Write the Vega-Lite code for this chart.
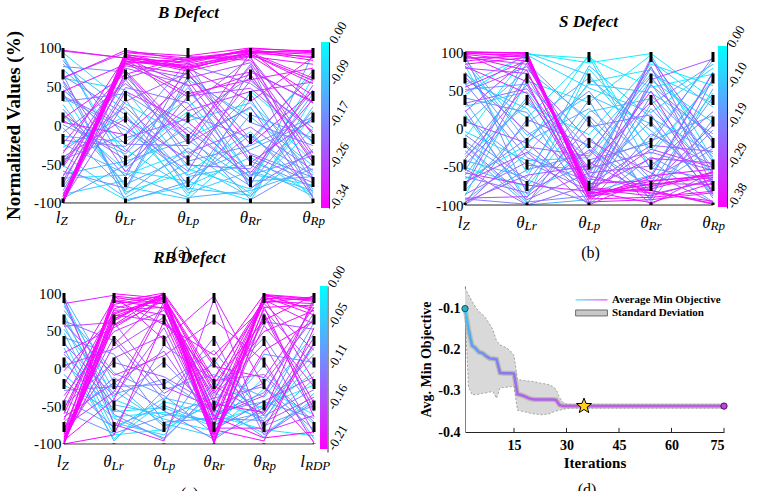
{
  "$schema": "https://vega.github.io/schema/vega-lite/v6.json",
  "background": "white",
  "padding": {"left": 4, "top": 3, "right": 4, "bottom": 4},
  "columns": 2,
  "bounds": "flush",
  "align": "each",
  "spacing": {"row": 78, "column": 136},
  "resolve": {"scale": {"color": "independent"}},
  "config": {
    "view": {"stroke": null},
    "font": "Liberation Serif",
    "axis": {"labelFont": "Liberation Serif", "titleFont": "Liberation Serif", "labelColor": "#000000", "titleColor": "#000000"},
    "title": {"font": "Liberation Serif", "color": "#000000"},
    "text": {"font": "Liberation Serif", "color": "#000000"}
  },
  "datasets": {
    "ax": [
      {"k": "a", "i": 0}, {"k": "b", "i": 1}, {"k": "c", "i": 2},
      {"k": "d", "i": 3}, {"k": "e", "i": 4}, {"k": "f", "i": 5}
    ],
    "la": [
      {"i": 0, "b": "l", "s": "Z"}, {"i": 1, "b": "θ", "s": "Lr"}, {"i": 2, "b": "θ", "s": "Lp"},
      {"i": 3, "b": "θ", "s": "Rr"}, {"i": 4, "b": "θ", "s": "Rp"}
    ],
    "lc": [
      {"i": 0, "b": "l", "s": "Z"}, {"i": 1, "b": "θ", "s": "Lr"}, {"i": 2, "b": "θ", "s": "Lp"},
      {"i": 3, "b": "θ", "s": "Rr"}, {"i": 4, "b": "θ", "s": "Rp"}, {"i": 5, "b": "l", "s": "RDP"}
    ],
    "pa": [
      {"o":-0.01,"a":88,"b":-42,"c":18,"d":-76,"e":62},
      {"o":-0.02,"a":-28,"b":12,"c":-91,"d":44,"e":-22},
      {"o":-0.02,"a":42,"b":-86,"c":-60,"d":-8,"e":-96},
      {"o":-0.03,"a":-68,"b":-64,"c":-33,"d":-88,"e":14},
      {"o":-0.03,"a":12,"b":-58,"c":-72,"d":-97,"e":36},
      {"o":-0.04,"a":94,"b":28,"c":-16,"d":22,"e":-61},
      {"o":-0.04,"a":-52,"b":-96,"c":-78,"d":-41,"e":-89},
      {"o":-0.05,"a":61,"b":46,"c":-56,"d":-82,"e":-4},
      {"o":-0.05,"a":-14,"b":-21,"c":34,"d":-63,"e":-77},
      {"o":-0.06,"a":27,"b":-79,"c":-95,"d":-22,"e":71},
      {"o":-0.06,"a":-89,"b":-71,"c":6,"d":29,"e":-47},
      {"o":-0.07,"a":72,"b":4,"c":-87,"d":-59,"e":-84},
      {"o":-0.07,"a":-38,"b":-93,"c":-48,"d":-92,"e":24},
      {"o":-0.08,"a":51,"b":-31,"c":-81,"d":-90,"e":-31},
      {"o":-0.08,"a":-3,"b":-84,"c":59,"d":11,"e":-52},
      {"o":-0.09,"a":79,"b":19,"c":-66,"d":-51,"e":-91},
      {"o":-0.09,"a":-63,"b":-46,"c":-19,"d":-72,"e":-66},
      {"o":-0.10,"a":36,"b":-6,"c":-64,"d":-31,"e":6},
      {"o":-0.10,"a":-24,"b":-62,"c":-93,"d":-84,"e":-56},
      {"o":-0.11,"a":16,"b":-76,"c":-39,"d":41,"e":-71},
      {"o":-0.11,"a":91,"b":-54,"c":-2,"d":-68,"e":41},
      {"o":-0.12,"a":-79,"b":34,"c":-84,"d":14,"e":-16},
      {"o":-0.12,"a":56,"b":-89,"c":-29,"d":-78,"e":93},
      {"o":-0.13,"a":1,"b":-37,"c":49,"d":-64,"e":-39},
      {"o":-0.13,"a":66,"b":-98,"c":-73,"d":-12,"e":-82},
      {"o":-0.14,"a":-44,"b":-11,"c":83,"d":-46,"e":-79},
      {"o":-0.14,"a":76,"b":69,"c":-46,"d":-26,"e":11},
      {"o":-0.15,"a":-94,"b":-51,"c":14,"d":-16,"e":-64},
      {"o":-0.15,"a":31,"b":41,"c":-11,"d":-96,"e":-49},
      {"o":-0.16,"a":-59,"b":-81,"c":64,"d":4,"e":-26},
      {"o":-0.16,"a":64,"b":14,"c":-76,"d":34,"e":-87},
      {"o":-0.17,"a":-19,"b":-27,"c":44,"d":-36,"e":-67},
      {"o":-0.17,"a":46,"b":-24,"c":-26,"d":79,"e":-94},
      {"o":-0.18,"a":-84,"b":49,"c":29,"d":-74,"e":19},
      {"o":-0.18,"a":21,"b":-66,"c":79,"d":54,"e":-3},
      {"o":-0.19,"a":-33,"b":24,"c":-51,"d":-56,"e":46},
      {"o":-0.19,"a":84,"b":-16,"c":9,"d":62,"e":-44},
      {"o":-0.20,"a":-71,"b":59,"c":-36,"d":-2,"e":-58},
      {"o":-0.20,"a":7,"b":-44,"c":24,"d":87,"e":-12},
      {"o":-0.21,"a":-49,"b":74,"c":53,"d":-81,"e":-33},
      {"o":-0.21,"a":38,"b":-2,"c":-59,"d":71,"e":29},
      {"o":-0.22,"a":-97,"b":31,"c":68,"d":-38,"e":-74},
      {"o":-0.22,"a":-9,"b":54,"c":-7,"d":-66,"e":52},
      {"o":-0.23,"a":58,"b":-60,"c":38,"d":48,"e":-21},
      {"o":-0.23,"a":-54,"b":64,"c":-23,"d":24,"e":-93},
      {"o":-0.24,"a":-76,"b":77,"c":61,"d":81,"e":-36},
      {"o":-0.24,"a":13,"b":-34,"c":72,"d":-18,"e":66},
      {"o":-0.25,"a":62,"b":94,"c":19,"d":44,"e":56},
      {"o":-0.25,"a":-41,"b":9,"c":-44,"d":58,"e":-8},
      {"o":-0.26,"a":-51,"b":61,"c":86,"d":89,"e":-69},
      {"o":-0.26,"a":-88,"b":44,"c":4,"d":-61,"e":34},
      {"o":-0.27,"a":96,"b":87,"c":51,"d":69,"e":31},
      {"o":-0.27,"a":-23,"b":71,"c":-14,"d":76,"e":-41},
      {"o":-0.28,"a":-100,"b":69,"c":-21,"d":94,"e":61},
      {"o":-0.28,"a":4,"b":-12,"c":58,"d":-48,"e":9},
      {"o":-0.29,"a":-36,"b":89,"c":74,"d":31,"e":88},
      {"o":-0.29,"a":-66,"b":81,"c":37,"d":66,"e":-48},
      {"o":-0.30,"a":9,"b":66,"c":89,"d":84,"e":-11},
      {"o":-0.30,"a":-91,"b":84,"c":41,"d":59,"e":74},
      {"o":-0.31,"a":44,"b":79,"c":66,"d":-24,"e":44},
      {"o":-0.31,"a":61,"b":97,"c":84,"d":92,"e":54},
      {"o":-0.32,"a":-95,"b":94,"c":87,"d":96,"e":94},
      {"o":-0.32,"a":-92,"b":92,"c":75,"d":90,"e":39},
      {"o":-0.32,"a":97,"b":87,"c":70,"d":89,"e":79},
      {"o":-0.33,"a":-98,"b":82,"c":78,"d":93,"e":89},
      {"o":-0.33,"a":-100,"b":90,"c":72,"d":96,"e":84},
      {"o":-0.33,"a":-96,"b":85,"c":76,"d":94,"e":97},
      {"o":-0.33,"a":-100,"b":91,"c":84,"d":97,"e":29},
      {"o":-0.34,"a":-97,"b":86,"c":82,"d":99,"e":96},
      {"o":-0.34,"a":-100,"b":80,"c":86,"d":95,"e":92},
      {"o":-0.34,"a":-99,"b":88,"c":80,"d":98,"e":87},
      {"o":-0.34,"a":-98,"b":95,"c":90,"d":100,"e":95},
      {"o":-0.34,"a":-100,"b":83,"c":74,"d":92,"e":58}
    ],
    "pb": [
      {"o":-0.01,"a":-12,"b":97,"c":92,"d":54,"e":71},
      {"o":-0.02,"a":44,"b":98,"c":86,"d":98,"e":38},
      {"o":-0.02,"a":-66,"b":-22,"c":97,"d":-34,"e":64},
      {"o":-0.03,"a":82,"b":-58,"c":61,"d":77,"e":-18},
      {"o":-0.03,"a":-37,"b":31,"c":-8,"d":84,"e":56},
      {"o":-0.04,"a":18,"b":-91,"c":78,"d":-12,"e":89},
      {"o":-0.04,"a":-88,"b":62,"c":34,"d":96,"e":-41},
      {"o":-0.05,"a":57,"b":96,"c":53,"d":21,"e":79},
      {"o":-0.05,"a":-4,"b":-42,"c":-38,"d":63,"e":8},
      {"o":-0.06,"a":71,"b":14,"c":94,"d":-54,"e":46},
      {"o":-0.06,"a":-51,"b":-76,"c":22,"d":39,"e":-63},
      {"o":-0.07,"a":29,"b":48,"c":-61,"d":88,"e":28},
      {"o":-0.07,"a":-76,"b":99,"c":70,"d":-28,"e":61},
      {"o":-0.08,"a":91,"b":-9,"c":43,"d":6,"e":-86},
      {"o":-0.08,"a":-23,"b":-97,"c":-19,"d":71,"e":33},
      {"o":-0.09,"a":63,"b":26,"c":-84,"d":-61,"e":74},
      {"o":-0.09,"a":-94,"b":-33,"c":58,"d":47,"e":-7},
      {"o":-0.10,"a":6,"b":77,"c":12,"d":-89,"e":52},
      {"o":-0.10,"a":-42,"b":-64,"c":82,"d":14,"e":-33},
      {"o":-0.11,"a":36,"b":-81,"c":-46,"d":-16,"e":17},
      {"o":-0.11,"a":-61,"b":41,"c":-71,"d":58,"e":-52},
      {"o":-0.12,"a":87,"b":-17,"c":26,"d":-43,"e":-96},
      {"o":-0.12,"a":-29,"b":-100,"c":-93,"d":32,"e":84},
      {"o":-0.13,"a":51,"b":58,"c":-27,"d":-77,"e":-26},
      {"o":-0.13,"a":-81,"b":7,"c":66,"d":-3,"e":-71},
      {"o":-0.14,"a":14,"b":-48,"c":-54,"d":79,"e":-14},
      {"o":-0.14,"a":-56,"b":86,"c":7,"d":-71,"e":41},
      {"o":-0.15,"a":74,"b":-29,"c":-78,"d":26,"e":-58},
      {"o":-0.15,"a":-17,"b":-71,"c":37,"d":-96,"e":12},
      {"o":-0.16,"a":40,"b":21,"c":-99,"d":-37,"e":-79},
      {"o":-0.16,"a":-99,"b":-54,"c":-32,"d":68,"e":-44},
      {"o":-0.17,"a":-34,"b":67,"c":-64,"d":9,"e":-88},
      {"o":-0.17,"a":97,"b":-86,"c":-12,"d":-82,"e":-2},
      {"o":-0.18,"a":-71,"b":-13,"c":49,"d":-52,"e":-66},
      {"o":-0.18,"a":24,"b":-96,"c":-88,"d":43,"e":-37},
      {"o":-0.19,"a":-47,"b":36,"c":-41,"d":-19,"e":94},
      {"o":-0.19,"a":-92,"b":-99,"c":17,"d":-66,"e":-22},
      {"o":-0.20,"a":59,"b":-38,"c":-69,"d":93,"e":-61},
      {"o":-0.20,"a":-8,"b":-67,"c":-97,"d":-7,"e":-48},
      {"o":-0.21,"a":-98,"b":12,"c":-22,"d":-92,"e":66},
      {"o":-0.21,"a":-63,"b":-84,"c":2,"d":18,"e":-91},
      {"o":-0.22,"a":33,"b":52,"c":-52,"d":-31,"e":-55},
      {"o":-0.22,"a":-86,"b":-44,"c":-81,"d":57,"e":-12},
      {"o":-0.23,"a":-21,"b":-93,"c":-58,"d":-49,"e":22},
      {"o":-0.23,"a":-100,"b":-24,"c":-36,"d":81,"e":-76},
      {"o":-0.24,"a":48,"b":81,"c":-44,"d":-86,"e":-68},
      {"o":-0.24,"a":-53,"b":-100,"c":-74,"d":-22,"e":-30},
      {"o":-0.25,"a":9,"b":-19,"c":-90,"d":64,"e":91},
      {"o":-0.25,"a":-77,"b":69,"c":-16,"d":-58,"e":-97},
      {"o":-0.26,"a":-96,"b":-61,"c":-49,"d":35,"e":-83},
      {"o":-0.26,"a":67,"b":-4,"c":-66,"d":-74,"e":4},
      {"o":-0.27,"a":-40,"b":57,"c":-86,"d":91,"e":-19},
      {"o":-0.27,"a":-91,"b":-89,"c":-28,"d":-99,"e":-56},
      {"o":-0.28,"a":22,"b":91,"c":-79,"d":-39,"e":-45},
      {"o":-0.28,"a":-70,"b":-31,"c":-100,"d":-64,"e":73},
      {"o":-0.29,"a":79,"b":72,"c":-57,"d":49,"e":-86},
      {"o":-0.29,"a":-58,"b":-74,"c":-82,"d":-27,"e":-51},
      {"o":-0.30,"a":93,"b":84,"c":-62,"d":-81,"e":-99},
      {"o":-0.31,"a":54,"b":89,"c":-72,"d":-68,"e":-62},
      {"o":-0.32,"a":97,"b":61,"c":-96,"d":-93,"e":-84},
      {"o":-0.33,"a":81,"b":46,"c":-88,"d":-72,"e":-73},
      {"o":-0.34,"a":99,"b":93,"c":-84,"d":-79,"e":-58},
      {"o":-0.34,"a":88,"b":97,"c":-79,"d":-88,"e":-66},
      {"o":-0.35,"a":95,"b":76,"c":-91,"d":-62,"e":-53},
      {"o":-0.35,"a":100,"b":98,"c":-77,"d":-84,"e":-95},
      {"o":-0.36,"a":92,"b":95,"c":-86,"d":-69,"e":-61},
      {"o":-0.36,"a":97,"b":88,"c":-82,"d":-97,"e":-71},
      {"o":-0.37,"a":100,"b":99,"c":-89,"d":-76,"e":-57},
      {"o":-0.37,"a":84,"b":93,"c":-80,"d":-81,"e":-98},
      {"o":-0.38,"a":98,"b":96,"c":-85,"d":-73,"e":-64},
      {"o":-0.38,"a":100,"b":99,"c":-92,"d":-90,"e":-82}
    ],
    "pc": [
      {"o":-0.01,"a":72,"b":-64,"c":-58,"d":-71,"e":-49,"f":-22},
      {"o":-0.01,"a":36,"b":-88,"c":-81,"d":-44,"e":-66,"f":12},
      {"o":-0.02,"a":91,"b":-41,"c":-67,"d":-83,"e":-27,"f":-61},
      {"o":-0.02,"a":14,"b":-93,"c":-44,"d":-62,"e":-81,"f":-89},
      {"o":-0.03,"a":58,"b":-72,"c":-88,"d":-19,"e":-54,"f":-5},
      {"o":-0.03,"a":-22,"b":-57,"c":-52,"d":-77,"e":-12,"f":-74},
      {"o":-0.04,"a":83,"b":-29,"c":-73,"d":-90,"e":-61,"f":28},
      {"o":-0.04,"a":47,"b":-81,"c":-39,"d":-54,"e":-86,"f":-41},
      {"o":-0.05,"a":-8,"b":-66,"c":-92,"d":-31,"e":-72,"f":-14},
      {"o":-0.05,"a":66,"b":-48,"c":-61,"d":-68,"e":4,"f":-93},
      {"o":-0.06,"a":27,"b":-96,"c":-28,"d":-8,"e":-38,"f":46},
      {"o":-0.06,"a":95,"b":-18,"c":-77,"d":-46,"e":-91,"f":-33},
      {"o":-0.07,"a":-41,"b":-77,"c":-49,"d":-74,"e":-58,"f":61},
      {"o":-0.07,"a":52,"b":-34,"c":-14,"d":-58,"e":-44,"f":-66},
      {"o":-0.08,"a":7,"b":-53,"c":-84,"d":12,"e":-76,"f":-49},
      {"o":-0.08,"a":77,"b":-6,"c":-36,"d":-86,"e":19,"f":8},
      {"o":-0.09,"a":-57,"b":-86,"c":-63,"d":-39,"e":-24,"f":-81},
      {"o":-0.09,"a":41,"b":19,"c":-71,"d":-66,"e":-69,"f":34},
      {"o":-0.10,"a":-29,"b":-24,"c":-21,"d":24,"e":-63,"f":-28},
      {"o":-0.10,"a":87,"b":-61,"c":-94,"d":-27,"e":41,"f":-57},
      {"o":-0.11,"a":19,"b":-45,"c":9,"d":-61,"e":-32,"f":74},
      {"o":-0.11,"a":-71,"b":-12,"c":-56,"d":-94,"e":-51,"f":19},
      {"o":-0.12,"a":63,"b":37,"c":-42,"d":41,"e":-88,"f":-44},
      {"o":-0.12,"a":-14,"b":-79,"c":31,"d":-16,"e":-8,"f":-71},
      {"o":-0.13,"a":-49,"b":8,"c":-11,"d":-49,"e":62,"f":52},
      {"o":-0.13,"a":33,"b":-37,"c":54,"d":-81,"e":-43,"f":-11},
      {"o":-0.14,"a":-83,"b":42,"c":-33,"d":6,"e":-71,"f":-38},
      {"o":-0.14,"a":4,"b":26,"c":68,"d":-36,"e":33,"f":-86},
      {"o":-0.15,"a":-64,"b":-19,"c":23,"d":-72,"e":78,"f":3},
      {"o":-0.15,"a":56,"b":61,"c":-24,"d":-52,"e":-19,"f":67},
      {"o":-0.16,"a":-36,"b":49,"c":77,"d":-23,"e":-61,"f":41},
      {"o":-0.16,"a":-91,"b":14,"c":44,"d":-88,"e":57,"f":-24},
      {"o":-0.16,"a":93,"b":-74,"c":-96,"d":92,"e":-84,"f":-62},
      {"o":-0.17,"a":-3,"b":71,"c":62,"d":-12,"e":86,"f":24},
      {"o":-0.17,"a":-77,"b":-31,"c":88,"d":-63,"e":-36,"f":88},
      {"o":-0.17,"a":21,"b":54,"c":93,"d":-97,"e":70,"f":-54},
      {"o":-0.17,"a":60,"b":-9,"c":17,"d":64,"e":10,"f":-99},
      {"o":-0.18,"a":-54,"b":77,"c":81,"d":-41,"e":91,"f":59},
      {"o":-0.18,"a":-96,"b":32,"c":97,"d":3,"e":-12,"f":81},
      {"o":-0.18,"a":-43,"b":83,"c":71,"d":-79,"e":-79,"f":33},
      {"o":-0.18,"a":86,"b":97,"c":38,"d":96,"e":-24,"f":-97},
      {"o":-0.19,"a":-88,"b":66,"c":96,"d":-56,"e":94,"f":-17},
      {"o":-0.19,"a":-68,"b":88,"c":86,"d":-33,"e":49,"f":77},
      {"o":-0.19,"a":-99,"b":58,"c":99,"d":-92,"e":97,"f":92},
      {"o":-0.19,"a":-21,"b":92,"c":58,"d":18,"e":82,"f":-64},
      {"o":-0.19,"a":-95,"b":-41,"c":84,"d":-99,"e":73,"f":-46},
      {"o":-0.20,"a":-93,"b":74,"c":92,"d":-68,"e":89,"f":86},
      {"o":-0.20,"a":-100,"b":63,"c":100,"d":-99,"e":95,"f":71},
      {"o":-0.20,"a":-86,"b":96,"c":89,"d":-47,"e":-58,"f":94},
      {"o":-0.20,"a":-97,"b":69,"c":94,"d":-14,"e":92,"f":80},
      {"o":-0.20,"a":-60,"b":85,"c":97,"d":-86,"e":24,"f":63},
      {"o":-0.20,"a":-100,"b":-88,"c":63,"d":-81,"e":-96,"f":54},
      {"o":-0.21,"a":-100,"b":79,"c":98,"d":-76,"e":96,"f":89},
      {"o":-0.21,"a":-95,"b":57,"c":90,"d":-58,"e":87,"f":95},
      {"o":-0.21,"a":-98,"b":88,"c":100,"d":-96,"e":99,"f":76},
      {"o":-0.21,"a":-91,"b":72,"c":95,"d":-30,"e":93,"f":91},
      {"o":-0.21,"a":-100,"b":94,"c":86,"d":-88,"e":81,"f":84},
      {"o":-0.21,"a":-99,"b":65,"c":99,"d":7,"e":98,"f":93},
      {"o":-0.21,"a":-82,"b":90,"c":80,"d":-64,"e":-92,"f":-84},
      {"o":-0.21,"a":-97,"b":99,"c":93,"d":-20,"e":64,"f":97}
    ],
    "pd": [
      {"t":1,"m":-0.100,"lo":-0.110,"hi":-0.049},
      {"t":2,"m":-0.150,"lo":-0.290,"hi":-0.066},
      {"t":3,"m":-0.190,"lo":-0.309,"hi":-0.082},
      {"t":4,"m":-0.196,"lo":-0.309,"hi":-0.096},
      {"t":5,"m":-0.206,"lo":-0.308,"hi":-0.107},
      {"t":6,"m":-0.208,"lo":-0.306,"hi":-0.114},
      {"t":7,"m":-0.215,"lo":-0.305,"hi":-0.124},
      {"t":8,"m":-0.221,"lo":-0.303,"hi":-0.137},
      {"t":9,"m":-0.222,"lo":-0.302,"hi":-0.152},
      {"t":10,"m":-0.223,"lo":-0.318,"hi":-0.178},
      {"t":11,"m":-0.256,"lo":-0.293,"hi":-0.188},
      {"t":12,"m":-0.257,"lo":-0.292,"hi":-0.192},
      {"t":13,"m":-0.257,"lo":-0.291,"hi":-0.196},
      {"t":14,"m":-0.257,"lo":-0.290,"hi":-0.203},
      {"t":15,"m":-0.258,"lo":-0.289,"hi":-0.214},
      {"t":16,"m":-0.308,"lo":-0.347,"hi":-0.272},
      {"t":17,"m":-0.310,"lo":-0.349,"hi":-0.274},
      {"t":18,"m":-0.313,"lo":-0.351,"hi":-0.275},
      {"t":19,"m":-0.317,"lo":-0.353,"hi":-0.276},
      {"t":20,"m":-0.320,"lo":-0.355,"hi":-0.277},
      {"t":21,"m":-0.321,"lo":-0.356,"hi":-0.278},
      {"t":22,"m":-0.321,"lo":-0.357,"hi":-0.280},
      {"t":23,"m":-0.321,"lo":-0.358,"hi":-0.282},
      {"t":24,"m":-0.321,"lo":-0.357,"hi":-0.283},
      {"t":25,"m":-0.321,"lo":-0.356,"hi":-0.285},
      {"t":26,"m":-0.321,"lo":-0.352,"hi":-0.289},
      {"t":27,"m":-0.322,"lo":-0.349,"hi":-0.296},
      {"t":28,"m":-0.334,"lo":-0.347,"hi":-0.316},
      {"t":29,"m":-0.337,"lo":-0.345,"hi":-0.328},
      {"t":30,"m":-0.337,"lo":-0.343,"hi":-0.332},
      {"t":31,"m":-0.337,"lo":-0.342,"hi":-0.333},
      {"t":32,"m":-0.337,"lo":-0.342,"hi":-0.333},
      {"t":33,"m":-0.337,"lo":-0.342,"hi":-0.333},
      {"t":34,"m":-0.337,"lo":-0.342,"hi":-0.333},
      {"t":35,"m":-0.337,"lo":-0.342,"hi":-0.333},
      {"t":36,"m":-0.337,"lo":-0.342,"hi":-0.333},
      {"t":37,"m":-0.337,"lo":-0.342,"hi":-0.333},
      {"t":38,"m":-0.337,"lo":-0.342,"hi":-0.333},
      {"t":39,"m":-0.337,"lo":-0.342,"hi":-0.333},
      {"t":40,"m":-0.337,"lo":-0.342,"hi":-0.333},
      {"t":41,"m":-0.337,"lo":-0.342,"hi":-0.333},
      {"t":42,"m":-0.337,"lo":-0.342,"hi":-0.333},
      {"t":43,"m":-0.337,"lo":-0.342,"hi":-0.333},
      {"t":44,"m":-0.337,"lo":-0.342,"hi":-0.333},
      {"t":45,"m":-0.337,"lo":-0.342,"hi":-0.333},
      {"t":46,"m":-0.337,"lo":-0.342,"hi":-0.333},
      {"t":47,"m":-0.337,"lo":-0.342,"hi":-0.333},
      {"t":48,"m":-0.337,"lo":-0.342,"hi":-0.333},
      {"t":49,"m":-0.337,"lo":-0.342,"hi":-0.333},
      {"t":50,"m":-0.337,"lo":-0.342,"hi":-0.333},
      {"t":51,"m":-0.337,"lo":-0.342,"hi":-0.333},
      {"t":52,"m":-0.337,"lo":-0.342,"hi":-0.333},
      {"t":53,"m":-0.337,"lo":-0.342,"hi":-0.333},
      {"t":54,"m":-0.337,"lo":-0.342,"hi":-0.333},
      {"t":55,"m":-0.337,"lo":-0.342,"hi":-0.333},
      {"t":56,"m":-0.337,"lo":-0.342,"hi":-0.333},
      {"t":57,"m":-0.337,"lo":-0.342,"hi":-0.333},
      {"t":58,"m":-0.337,"lo":-0.342,"hi":-0.333},
      {"t":59,"m":-0.337,"lo":-0.342,"hi":-0.333},
      {"t":60,"m":-0.337,"lo":-0.342,"hi":-0.333},
      {"t":61,"m":-0.337,"lo":-0.342,"hi":-0.333},
      {"t":62,"m":-0.337,"lo":-0.342,"hi":-0.333},
      {"t":63,"m":-0.337,"lo":-0.342,"hi":-0.333},
      {"t":64,"m":-0.337,"lo":-0.342,"hi":-0.333},
      {"t":65,"m":-0.337,"lo":-0.342,"hi":-0.333},
      {"t":66,"m":-0.337,"lo":-0.342,"hi":-0.333},
      {"t":67,"m":-0.337,"lo":-0.342,"hi":-0.333},
      {"t":68,"m":-0.337,"lo":-0.342,"hi":-0.333},
      {"t":69,"m":-0.337,"lo":-0.342,"hi":-0.333},
      {"t":70,"m":-0.337,"lo":-0.342,"hi":-0.333},
      {"t":71,"m":-0.337,"lo":-0.342,"hi":-0.333},
      {"t":72,"m":-0.337,"lo":-0.342,"hi":-0.333},
      {"t":73,"m":-0.337,"lo":-0.342,"hi":-0.333},
      {"t":74,"m":-0.337,"lo":-0.342,"hi":-0.333},
      {"t":75,"m":-0.337,"lo":-0.342,"hi":-0.333}
    ]
  },
  "concat": [
    {
      "width": 266,
      "height": 166,
      "title": {"text": "B Defect", "frame": "group", "fontStyle": "italic", "fontWeight": "bold", "fontSize": 17, "anchor": "middle", "dx": -7.5, "offset": -2.6},
      "resolve": {"scale": {"y": "independent"}},
      "layer": [
        {
          "layer": [
            {
              "data": {"name": "pa"},
              "transform": [
                {"window": [{"op": "row_number", "as": "id"}]},
                {"fold": ["a", "b", "c", "d", "e"], "as": ["k", "v"]},
                {"lookup": "k", "from": {"data": {"name": "ax"}, "key": "k", "fields": ["i"]}}
              ],
              "mark": {"type": "line", "strokeWidth": 1},
              "encoding": {
                "x": {"field": "i", "type": "quantitative", "scale": {"domain": [0, 4.256], "nice": false, "zero": false},
                      "axis": {"title": "(a)", "labels": false, "ticks": false, "domain": false, "grid": false, "titleFontSize": 16, "titleFontWeight": "normal", "titlePadding": 36, "titleX": 118}},
                "y": {"field": "v", "type": "quantitative", "scale": {"domain": [-106.5, 107.7], "nice": false, "zero": false},
                      "axis": {"values": [-100, -50, 0, 50, 100], "labelExpr": "replace(datum.label, '−', '-')", "labelFontSize": 15, "labelPadding": 2, "domain": false, "ticks": false, "grid": false, "title": "Normalized Values (%)", "titleFontSize": 19, "titleFontWeight": "bold", "titlePadding": 10}},
                "color": {"field": "o", "type": "quantitative", "scale": {"domain": [-0.34, 0], "range": ["#ff00ff", "#00ffff"], "interpolate": "rgb"}, "legend": null},
                "detail": {"field": "id", "type": "nominal"}
              }
            },
            {
              "data": {"values": [{}]},
              "mark": {"type": "rule", "color": "#262626", "strokeWidth": 1},
              "encoding": {"x": {"datum": 0}, "x2": {"datum": 4}, "y": {"datum": -100}}
            },
            {
              "data": {"name": "ax"},
              "transform": [{"filter": "datum.i <= 4"}],
              "mark": {"type": "rule", "color": "#000000", "strokeWidth": 3, "strokeDash": [10, 11.5]},
              "encoding": {"x": {"field": "i", "type": "quantitative"}, "y": {"datum": 100}, "y2": {"datum": -100}}
            },
            {
              "data": {"name": "la"},
              "mark": {"type": "text", "fontStyle": "italic", "fontSize": 17, "align": "right", "baseline": "alphabetic", "dx": -2.5},
              "encoding": {"x": {"field": "i", "type": "quantitative"}, "y": {"datum": -125.8}, "text": {"field": "b"}}
            },
            {
              "data": {"name": "la"},
              "mark": {"type": "text", "fontStyle": "italic", "fontSize": 13, "align": "left", "baseline": "alphabetic", "dx": -2.5},
              "encoding": {"x": {"field": "i", "type": "quantitative"}, "y": {"datum": -129}, "text": {"field": "s"}}
            }
          ]
        },
        {
          "data": {"values": [{}]},
          "mark": {"type": "rect", "color": {"gradient": "linear", "x1": 0, "y1": 0, "x2": 0, "y2": 1, "stops": [{"offset": 0, "color": "#00ffff"}, {"offset": 1, "color": "#ff00ff"}]}},
          "encoding": {
            "x": {"datum": 4.128},
            "x2": {"datum": 4.256},
            "y": {"datum": 0, "type": "quantitative", "scale": {"domain": [-0.34, 0], "nice": false, "zero": false},
                  "axis": {"orient": "right", "values": [0, -0.085, -0.17, -0.255, -0.34], "format": ".2f", "labelExpr": "replace(datum.label, '−', '-')", "labelAngle": -60, "labelAlign": "left", "labelBaseline": "middle", "labelFontSize": 13, "labelPadding": 3, "labelOverlap": false, "labelBound": false, "labelFlush": false, "ticks": false, "domain": true, "domainColor": "#262626", "grid": false, "title": null}},
            "y2": {"datum": -0.34}
          }
        }
      ]
    },
    {
      "width": 262,
      "height": 166,
      "title": {"text": "S Defect", "frame": "group", "fontStyle": "italic", "fontWeight": "bold", "fontSize": 17, "anchor": "middle", "dx": -7.5, "offset": -7.6},
      "resolve": {"scale": {"y": "independent"}},
      "layer": [
        {
          "layer": [
            {
              "data": {"name": "pb"},
              "transform": [
                {"window": [{"op": "row_number", "as": "id"}]},
                {"fold": ["a", "b", "c", "d", "e"], "as": ["k", "v"]},
                {"lookup": "k", "from": {"data": {"name": "ax"}, "key": "k", "fields": ["i"]}}
              ],
              "mark": {"type": "line", "strokeWidth": 1},
              "encoding": {
                "x": {"field": "i", "type": "quantitative", "scale": {"domain": [0, 4.226], "nice": false, "zero": false},
                      "axis": {"title": "(b)", "labels": false, "ticks": false, "domain": false, "grid": false, "titleFontSize": 16, "titleFontWeight": "normal", "titlePadding": 36.4, "titleX": 125}},
                "y": {"field": "v", "type": "quantitative", "scale": {"domain": [-103.9, 113.1], "nice": false, "zero": false},
                      "axis": {"values": [-100, -50, 0, 50, 100], "labelExpr": "replace(datum.label, '−', '-')", "labelFontSize": 15, "labelPadding": 2, "domain": false, "ticks": false, "grid": false, "title": null}},
                "color": {"field": "o", "type": "quantitative", "scale": {"domain": [-0.38, 0], "range": ["#ff00ff", "#00ffff"], "interpolate": "rgb"}, "legend": null},
                "detail": {"field": "id", "type": "nominal"}
              }
            },
            {
              "data": {"values": [{}]},
              "mark": {"type": "rule", "color": "#262626", "strokeWidth": 1},
              "encoding": {"x": {"datum": 0}, "x2": {"datum": 4}, "y": {"datum": -100}}
            },
            {
              "data": {"name": "ax"},
              "transform": [{"filter": "datum.i <= 4"}],
              "mark": {"type": "rule", "color": "#000000", "strokeWidth": 3, "strokeDash": [10, 11.5]},
              "encoding": {"x": {"field": "i", "type": "quantitative"}, "y": {"datum": 100}, "y2": {"datum": -100}}
            },
            {
              "data": {"name": "la"},
              "mark": {"type": "text", "fontStyle": "italic", "fontSize": 17, "align": "right", "baseline": "alphabetic", "dx": -2.5},
              "encoding": {"x": {"field": "i", "type": "quantitative"}, "y": {"datum": -130.1}, "text": {"field": "b"}}
            },
            {
              "data": {"name": "la"},
              "mark": {"type": "text", "fontStyle": "italic", "fontSize": 13, "align": "left", "baseline": "alphabetic", "dx": -2.5},
              "encoding": {"x": {"field": "i", "type": "quantitative"}, "y": {"datum": -133.3}, "text": {"field": "s"}}
            }
          ]
        },
        {
          "data": {"values": [{}]},
          "mark": {"type": "rect", "color": {"gradient": "linear", "x1": 0, "y1": 0, "x2": 0, "y2": 1, "stops": [{"offset": 0, "color": "#00ffff"}, {"offset": 1, "color": "#ff00ff"}]}},
          "encoding": {
            "x": {"datum": 4.081},
            "x2": {"datum": 4.226},
            "y": {"datum": 0, "type": "quantitative", "scale": {"domain": [-0.3824, 0.0094], "nice": false, "zero": false},
                  "axis": {"orient": "right", "values": [0, -0.095, -0.19, -0.2851, -0.38], "format": ".2f", "labelExpr": "replace(datum.label, '−', '-')", "labelAngle": -60, "labelAlign": "left", "labelBaseline": "middle", "labelFontSize": 13, "labelPadding": 3, "labelOverlap": false, "labelBound": false, "labelFlush": false, "ticks": false, "domain": true, "domainColor": "#262626", "grid": false, "title": null}},
            "y2": {"datum": -0.38}
          }
        }
      ]
    },
    {
      "width": 264.5,
      "height": 166,
      "title": {"text": "RB Defect", "frame": "group", "fontStyle": "italic", "fontWeight": "bold", "fontSize": 17, "anchor": "middle", "dx": -6, "offset": -3.6},
      "resolve": {"scale": {"y": "independent"}},
      "layer": [
        {
          "layer": [
            {
              "data": {"name": "pc"},
              "transform": [
                {"window": [{"op": "row_number", "as": "id"}]},
                {"fold": ["a", "b", "c", "d", "e", "f"], "as": ["k", "v"]},
                {"lookup": "k", "from": {"data": {"name": "ax"}, "key": "k", "fields": ["i"]}}
              ],
              "mark": {"type": "line", "strokeWidth": 1},
              "encoding": {
                "x": {"field": "i", "type": "quantitative", "scale": {"domain": [-0.02, 5.27], "nice": false, "zero": false},
                      "axis": {"title": "(c)", "labels": false, "ticks": false, "domain": false, "grid": false, "titleFontSize": 16, "titleFontWeight": "normal", "titlePadding": 33.4, "titleX": 126}},
                "y": {"field": "v", "type": "quantitative", "scale": {"domain": [-110.6, 109.3], "nice": false, "zero": false},
                      "axis": {"values": [-100, -50, 0, 50, 100], "labelExpr": "replace(datum.label, '−', '-')", "labelFontSize": 15, "labelPadding": 2, "domain": false, "ticks": false, "grid": false, "title": null}},
                "color": {"field": "o", "type": "quantitative", "scale": {"domain": [-0.21, 0], "range": ["#ff00ff", "#00ffff"], "interpolate": "rgb"}, "legend": null},
                "detail": {"field": "id", "type": "nominal"}
              }
            },
            {
              "data": {"values": [{}]},
              "mark": {"type": "rule", "color": "#404040", "strokeWidth": 1},
              "encoding": {"x": {"datum": 0}, "x2": {"datum": 5}, "y": {"datum": -100}}
            },
            {
              "data": {"name": "ax"},
              "mark": {"type": "rule", "color": "#000000", "strokeWidth": 3, "strokeDash": [10, 11.5]},
              "encoding": {"x": {"field": "i", "type": "quantitative"}, "y": {"datum": 100}, "y2": {"datum": -100}}
            },
            {
              "data": {"name": "lc"},
              "transform": [{"filter": "datum.i < 5"}],
              "mark": {"type": "text", "fontStyle": "italic", "fontSize": 17, "align": "right", "baseline": "alphabetic", "dx": -2.5},
              "encoding": {"x": {"field": "i", "type": "quantitative"}, "y": {"datum": -131.1}, "text": {"field": "b"}}
            },
            {
              "data": {"name": "lc"},
              "transform": [{"filter": "datum.i < 5"}],
              "mark": {"type": "text", "fontStyle": "italic", "fontSize": 13, "align": "left", "baseline": "alphabetic", "dx": -2.5},
              "encoding": {"x": {"field": "i", "type": "quantitative"}, "y": {"datum": -134.4}, "text": {"field": "s"}}
            },
            {
              "data": {"name": "lc"},
              "transform": [{"filter": "datum.i == 5"}],
              "mark": {"type": "text", "fontStyle": "italic", "fontSize": 17, "align": "right", "baseline": "alphabetic", "dx": -9},
              "encoding": {"x": {"field": "i", "type": "quantitative"}, "y": {"datum": -131.1}, "text": {"field": "b"}}
            },
            {
              "data": {"name": "lc"},
              "transform": [{"filter": "datum.i == 5"}],
              "mark": {"type": "text", "fontStyle": "italic", "fontSize": 13, "align": "left", "baseline": "alphabetic", "dx": -9},
              "encoding": {"x": {"field": "i", "type": "quantitative"}, "y": {"datum": -134.4}, "text": {"field": "s"}}
            }
          ]
        },
        {
          "data": {"values": [{}]},
          "mark": {"type": "rect", "color": {"gradient": "linear", "x1": 0, "y1": 0, "x2": 0, "y2": 1, "stops": [{"offset": 0, "color": "#00ffff"}, {"offset": 1, "color": "#ff00ff"}]}},
          "encoding": {
            "x": {"datum": 5.12},
            "x2": {"datum": 5.27},
            "y": {"datum": 0, "type": "quantitative", "scale": {"domain": [-0.2139, 0], "nice": false, "zero": false},
                  "axis": {"orient": "right", "values": [0, -0.0525, -0.1051, -0.1575, -0.21], "format": ".2f", "labelExpr": "replace(datum.label, '−', '-')", "labelAngle": -60, "labelAlign": "left", "labelBaseline": "middle", "labelFontSize": 13, "labelPadding": 3, "labelOverlap": false, "labelBound": false, "labelFlush": false, "ticks": false, "domain": true, "domainColor": "#262626", "grid": false, "title": null}},
            "y2": {"datum": -0.21}
          }
        }
      ]
    },
    {
      "width": 259,
      "height": 146,
      "title": {"text": "(d)", "orient": "bottom", "fontSize": 16, "fontWeight": "normal", "anchor": "middle", "dx": -7.5, "offset": 12},
      "layer": [
        {
          "data": {"name": "pd"},
          "mark": {"type": "area", "color": "#d9d9d9"},
          "encoding": {
            "x": {"field": "t", "type": "quantitative", "scale": {"domain": [1, 75], "nice": false, "zero": false},
                  "axis": {"values": [15, 30, 45, 60, 75], "labelFontSize": 14, "labelFontWeight": "bold", "ticks": false, "domainColor": "#262626", "labelPadding": 6, "grid": false, "title": "Iterations", "titleFontSize": 15, "titleFontWeight": "bold", "titlePadding": 3}},
            "y": {"field": "lo", "type": "quantitative", "scale": {"domain": [-0.4, -0.045], "nice": false, "zero": false},
                  "axis": {"values": [-0.4, -0.3, -0.2, -0.1], "format": ".1f", "labelExpr": "replace(datum.label, '−', '-')", "labelFontSize": 14, "labelFontWeight": "bold", "ticks": false, "domainColor": "#7f7f7f", "labelPadding": 5, "grid": false, "title": "Avg. Min Objective", "titleFontSize": 14, "titleFontWeight": "bold", "titlePadding": 4}},
            "y2": {"field": "hi"}
          }
        },
        {
          "data": {"name": "pd"},
          "transform": [{"filter": {"field": "t", "oneOf": [15, 30, 45, 60, 75]}}],
          "mark": {"type": "rule", "color": "#262626", "strokeWidth": 1},
          "encoding": {"x": {"field": "t", "type": "quantitative"}, "y": {"datum": -0.4}, "y2": {"datum": -0.39}}
        },
        {
          "data": {"name": "pd"},
          "mark": {"type": "line", "color": "#8c8c8c", "strokeWidth": 0.8, "strokeDash": [2, 2]},
          "encoding": {"x": {"field": "t", "type": "quantitative"}, "y": {"field": "hi", "type": "quantitative"}}
        },
        {
          "data": {"name": "pd"},
          "mark": {"type": "line", "color": "#8c8c8c", "strokeWidth": 0.8, "strokeDash": [2, 2]},
          "encoding": {"x": {"field": "t", "type": "quantitative"}, "y": {"field": "lo", "type": "quantitative"}}
        },
        {
          "data": {"name": "pd"},
          "mark": {"type": "line", "color": "#9a9a9a", "strokeWidth": 5, "opacity": 0.5},
          "encoding": {"x": {"field": "t", "type": "quantitative"}, "y": {"field": "m", "type": "quantitative"}}
        },
        {
          "data": {"name": "pd"},
          "mark": {"type": "line", "strokeWidth": 2.5, "stroke": {"gradient": "linear", "x1": 0, "y1": 0, "x2": 0, "y2": 1, "stops": [{"offset": 0, "color": "#3ec8f0"}, {"offset": 0.38, "color": "#5ea0f2"}, {"offset": 0.5, "color": "#7888f0"}, {"offset": 0.68, "color": "#8e74ee"}, {"offset": 0.9, "color": "#b062e8"}, {"offset": 1, "color": "#c05ce6"}]}},
          "encoding": {"x": {"field": "t", "type": "quantitative"}, "y": {"field": "m", "type": "quantitative"}}
        },
        {
          "data": {"name": "pd"},
          "transform": [{"filter": "datum.t == 1"}],
          "mark": {"type": "point", "shape": "circle", "filled": true, "size": 40, "color": "#2ab0c8", "stroke": "#1e4e5a", "strokeWidth": 1, "opacity": 1},
          "encoding": {"x": {"field": "t", "type": "quantitative"}, "y": {"field": "m", "type": "quantitative"}}
        },
        {
          "data": {"name": "pd"},
          "transform": [{"filter": "datum.t == 75"}],
          "mark": {"type": "point", "shape": "circle", "filled": true, "size": 40, "color": "#c040e0", "stroke": "#4a1656", "strokeWidth": 1, "opacity": 1},
          "encoding": {"x": {"field": "t", "type": "quantitative"}, "y": {"field": "m", "type": "quantitative"}}
        },
        {
          "data": {"name": "pd"},
          "transform": [{"filter": "datum.t == 35"}],
          "mark": {"type": "point", "shape": "M0,-1L0.247,-0.34L0.951,-0.309L0.399,0.13L0.588,0.809L0,0.42L-0.588,0.809L-0.399,0.13L-0.951,-0.309L-0.247,-0.34Z", "filled": true, "size": 256, "color": "#ffd21f", "stroke": "#000000", "strokeWidth": 1, "opacity": 1},
          "encoding": {"x": {"field": "t", "type": "quantitative"}, "y": {"field": "m", "type": "quantitative"}}
        },
        {
          "data": {"values": [{}]},
          "mark": {"type": "rect", "color": {"gradient": "linear", "x1": 0, "y1": 0, "x2": 1, "y2": 0, "stops": [{"offset": 0, "color": "#40e8ff"}, {"offset": 1, "color": "#ff40ff"}]}},
          "encoding": {"x": {"datum": 32.6}, "x2": {"datum": 41.7}, "y": {"datum": -0.0775}, "y2": {"datum": -0.0805}}
        },
        {
          "data": {"values": [{}]},
          "mark": {"type": "rect", "fill": "#c8c8c8", "stroke": "#505050", "strokeWidth": 0.8},
          "encoding": {"x": {"datum": 32.6}, "x2": {"datum": 41.7}, "y": {"datum": -0.1033}, "y2": {"datum": -0.1179}}
        },
        {
          "data": {"values": [{}]},
          "mark": {"type": "text", "text": "Average Min Objective", "fontSize": 11, "fontWeight": "bold", "align": "left", "baseline": "middle"},
          "encoding": {"x": {"datum": 43}, "y": {"datum": -0.079}}
        },
        {
          "data": {"values": [{}]},
          "mark": {"type": "text", "text": "Standard Deviation", "fontSize": 11, "fontWeight": "bold", "align": "left", "baseline": "middle"},
          "encoding": {"x": {"datum": 43}, "y": {"datum": -0.1106}}
        }
      ]
    }
  ]
}
